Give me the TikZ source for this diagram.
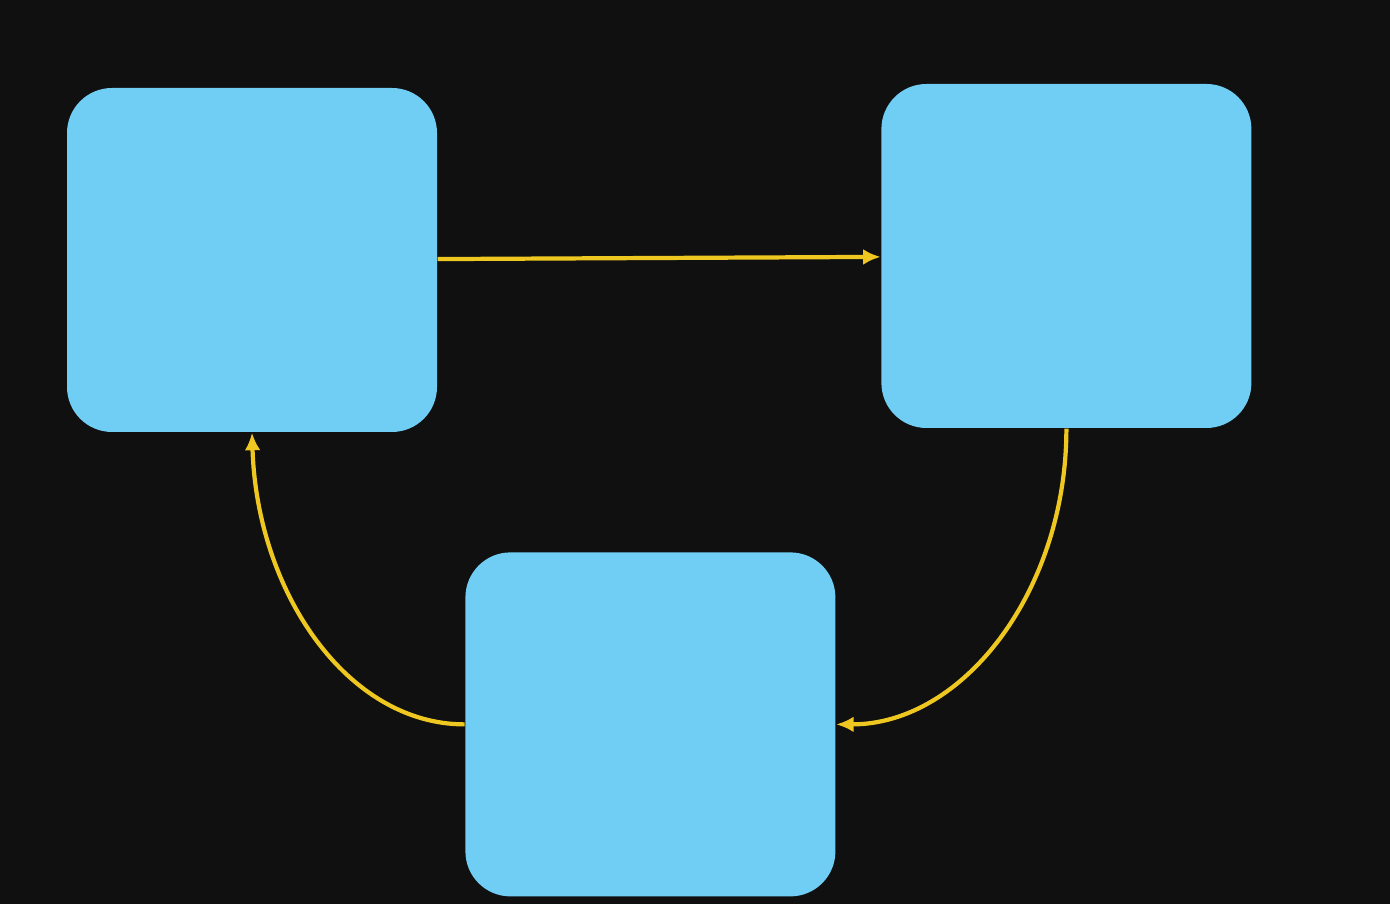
\documentclass[tikz,border=0pt]{standalone}
\usepackage{tikz}
\usetikzlibrary{arrows.meta, positioning}
\definecolor{boardcolor}{RGB}{16, 16, 16}
\definecolor{boxcolor}{RGB}{112, 205, 243}
\definecolor{linkcolor}{RGB}{238, 200, 32}

\begin{document}
\begin{tikzpicture}[
    box/.style={fill=boxcolor, rounded corners=0.45cm, minimum width=3.7cm, minimum height=3.44cm, inner sep=0pt},
    link/.style={-{Latex[length=5pt, width=4.5pt]}, draw=linkcolor, line width=1.2pt}
]
    % Board
    \fill[boardcolor] (0,0) rectangle (13.9,9.04);

    % Boxes
    \node[box] (first) at (2.52,6.44) {};
    \node[box, right=4.43cm of first, yshift=0.04cm] (second) {};
    \node[box, below right=1.19cm and 0.27cm of first] (third) {};

    % Links
    \draw[link] (first) -- (second);
    \draw[link] (second.south) .. controls +(0,-1.62) and +(1.27,0) .. (third.east);
    \draw[link] (third.west) .. controls +(-1.17,0) and +(0.05,-1.6) .. (first.south);

\end{tikzpicture}
\end{document}
